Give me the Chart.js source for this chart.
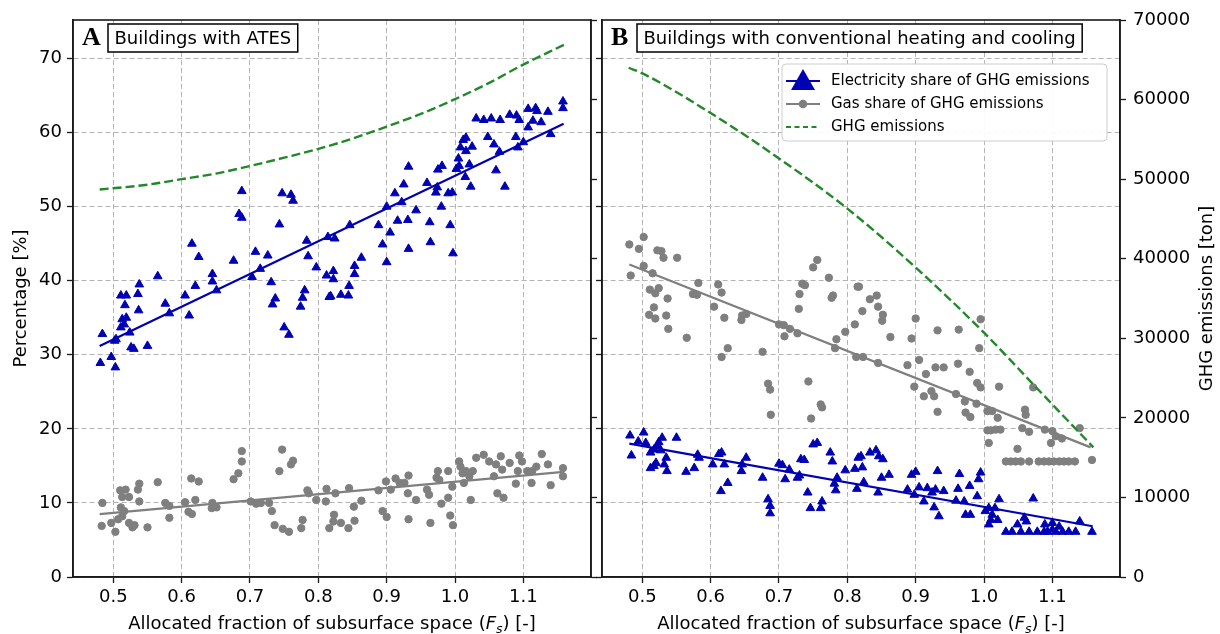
<!DOCTYPE html>
<html>
<head>
<meta charset="utf-8">
<script src="https://cdn.jsdelivr.net/npm/chart.js@4.4.1/dist/chart.umd.min.js"></script>
<style>
  html, body { margin: 0; padding: 0; background: #fff; }
  #wrap { position: relative; width: 1220px; height: 634px; overflow: hidden; background: #fff; }
  canvas { position: absolute; top: 0; }
  #panelA { left: 0; }
  #panelB { left: 594px; }
</style>
</head>
<body>
<div id="wrap">
  <canvas id="panelA" width="600" height="634"></canvas>
  <canvas id="panelB" width="626" height="634"></canvas>
</div>
<script>
// tick values
const fsTicks = [0.5, 0.6, 0.7, 0.8, 0.9, 1.0, 1.1];
const percentTicks = [0, 10, 20, 30, 40, 50, 60, 70];
const ghgTicks = [0, 10000, 20000, 30000, 40000, 50000, 60000, 70000];

// A: buildings with ATES  -- [Fs, %]
const atesElec = [
  [0.484, 32.8], [0.481, 28.9], [0.497, 29.7], [0.503, 28.3], [0.502, 31.9], [0.504, 32.1],
  [0.511, 38.0], [0.519, 38.0], [0.517, 36.7], [0.536, 38.2], [0.538, 39.5], [0.537, 36.0],
  [0.513, 34.8], [0.516, 34.1], [0.511, 33.7], [0.519, 35.0], [0.524, 33.0], [0.526, 31.0],
  [0.530, 30.8], [0.550, 31.2], [0.565, 40.6], [0.576, 36.9], [0.582, 35.6], [0.605, 38.0],
  [0.615, 45.0], [0.625, 43.2], [0.611, 35.3], [0.620, 39.3], [0.645, 40.9], [0.645, 39.9],
  [0.651, 38.7], [0.676, 42.7], [0.688, 52.1], [0.684, 49.0], [0.688, 48.5], [0.708, 43.9],
  [0.726, 43.4], [0.703, 40.5], [0.715, 41.6], [0.731, 39.8], [0.737, 37.6], [0.733, 36.8],
  [0.743, 47.6], [0.747, 51.8], [0.760, 51.6], [0.763, 50.8], [0.750, 33.7], [0.757, 32.7],
  [0.774, 36.5], [0.777, 37.7], [0.780, 38.7], [0.783, 45.4], [0.785, 43.3], [0.797, 41.8],
  [0.812, 40.7], [0.822, 41.3], [0.822, 40.2], [0.816, 37.8], [0.818, 37.9], [0.814, 45.9],
  [0.824, 45.7], [0.833, 38.1], [0.844, 38.0], [0.845, 39.3], [0.853, 40.9], [0.853, 42.0],
  [0.863, 43.1], [0.846, 47.5], [0.888, 47.5], [0.894, 44.9], [0.900, 42.5], [0.905, 46.5],
  [0.900, 50.0], [0.912, 51.8], [0.925, 53.0], [0.932, 55.4], [0.916, 48.1], [0.931, 48.2],
  [0.932, 44.3], [0.922, 50.6], [0.943, 49.5], [0.959, 53.2], [0.963, 47.9], [0.964, 45.2],
  [0.972, 51.9], [0.974, 52.6], [0.975, 55.0], [0.981, 55.5], [0.980, 50.0], [0.990, 51.8],
  [0.996, 51.9], [0.993, 47.5], [0.997, 43.7], [1.002, 55.1], [1.006, 55.5], [1.005, 56.5],
  [1.008, 58.0], [1.012, 59.0], [1.016, 59.3], [1.021, 55.7], [1.015, 54.0], [1.023, 52.7],
  [1.025, 58.1], [1.016, 57.5], [1.031, 61.9], [1.042, 61.7], [1.053, 61.9], [1.066, 61.7],
  [1.048, 59.4], [1.057, 58.4], [1.060, 54.9], [1.065, 57.4], [1.073, 52.7], [1.080, 62.4],
  [1.090, 62.3], [1.094, 61.7], [1.089, 59.4], [1.092, 58.0], [1.100, 58.7], [1.107, 63.2],
  [1.118, 63.3], [1.120, 62.9], [1.114, 61.6], [1.107, 60.7], [1.126, 61.4], [1.136, 62.8],
  [1.140, 59.8], [1.158, 64.2], [1.158, 63.3]
];
const atesGas = [
  [0.484, 10.0], [0.483, 6.9], [0.497, 7.3], [0.503, 6.1], [0.510, 11.7], [0.518, 11.8],
  [0.513, 10.8], [0.523, 10.8], [0.511, 9.4], [0.516, 8.9], [0.513, 8.2], [0.507, 7.8],
  [0.538, 12.6], [0.536, 11.8], [0.538, 10.2], [0.523, 7.3], [0.528, 6.7], [0.531, 7.0],
  [0.550, 6.7], [0.565, 12.8], [0.576, 10.0], [0.582, 9.6], [0.582, 8.0], [0.605, 10.1],
  [0.614, 13.3], [0.625, 12.9], [0.610, 8.8], [0.615, 8.5], [0.620, 10.4], [0.645, 10.0],
  [0.644, 9.3], [0.651, 9.4], [0.676, 13.2], [0.683, 14.0], [0.688, 15.6], [0.688, 17.0],
  [0.701, 10.2], [0.709, 9.9], [0.716, 10.0], [0.728, 10.0], [0.732, 8.9], [0.736, 7.0],
  [0.748, 6.5], [0.757, 6.1], [0.743, 14.3], [0.747, 17.2], [0.760, 15.2], [0.763, 15.7],
  [0.775, 6.6], [0.777, 7.7], [0.784, 11.7], [0.786, 11.3], [0.797, 10.4], [0.812, 11.9],
  [0.811, 10.2], [0.825, 11.3], [0.823, 8.4], [0.822, 7.5], [0.816, 6.6], [0.833, 7.3],
  [0.844, 6.6], [0.853, 7.6], [0.852, 9.5], [0.845, 12.0], [0.863, 10.3], [0.888, 11.7],
  [0.899, 12.9], [0.894, 8.9], [0.900, 8.1], [0.906, 11.8], [0.913, 13.3], [0.919, 12.7],
  [0.926, 12.7], [0.932, 13.7], [0.931, 11.3], [0.943, 10.4], [0.932, 7.8], [0.959, 11.8],
  [0.962, 11.1], [0.964, 7.3], [0.973, 13.4], [0.975, 14.3], [0.977, 13.1], [0.990, 14.3],
  [0.980, 9.9], [0.990, 10.7], [0.993, 8.3], [0.997, 7.0], [0.996, 12.2], [1.006, 15.6],
  [1.008, 14.9], [1.011, 14.0], [1.016, 14.3], [1.021, 13.6], [1.013, 12.7], [1.026, 14.3],
  [1.023, 10.4], [1.031, 16.1], [1.042, 16.5], [1.050, 15.6], [1.057, 13.6], [1.060, 15.2],
  [1.067, 16.3], [1.062, 11.3], [1.071, 10.7], [1.069, 14.5], [1.080, 15.4], [1.089, 12.6],
  [1.092, 14.3], [1.094, 16.4], [1.098, 15.6], [1.106, 14.3], [1.112, 12.7], [1.119, 14.9],
  [1.113, 14.3], [1.127, 16.6], [1.136, 15.2], [1.140, 12.4], [1.158, 14.7], [1.158, 13.6]
];
const atesElecFit = [[0.480, 31.2], [1.159, 61.2]];
const atesGasFit = [[0.480, 8.5], [1.159, 14.2]];
// GHG emissions [ton]
const atesGhg = [
  [0.480, 48700], [0.550, 49300], [0.600, 50000], [0.650, 50700], [0.700, 51650],
  [0.750, 52700], [0.800, 53800], [0.850, 55100], [0.900, 56600], [0.950, 58200],
  [1.000, 60050], [1.050, 62100], [1.100, 64400], [1.160, 66900]
];

// B: conventional heating and cooling
const convElec = [
  [0.482, 19.1], [0.484, 16.4], [0.494, 18.3], [0.502, 19.5], [0.505, 18.1], [0.512, 16.8],
  [0.517, 17.2], [0.522, 17.7], [0.524, 18.2], [0.529, 18.8], [0.527, 17.1], [0.512, 14.7],
  [0.517, 15.0], [0.520, 15.4], [0.535, 16.1], [0.536, 14.3], [0.550, 18.8], [0.532, 15.2],
  [0.564, 14.2], [0.576, 14.7], [0.581, 16.5], [0.583, 16.1], [0.603, 15.2], [0.612, 16.6],
  [0.616, 16.8], [0.620, 15.2], [0.615, 11.6], [0.625, 12.7], [0.645, 14.3], [0.646, 15.2],
  [0.652, 16.1], [0.676, 13.4], [0.684, 10.5], [0.687, 9.6], [0.687, 8.6], [0.700, 15.3],
  [0.705, 15.1], [0.709, 13.2], [0.715, 14.5], [0.727, 13.4], [0.730, 13.7], [0.732, 15.9],
  [0.737, 15.8], [0.742, 11.4], [0.746, 9.3], [0.750, 17.9], [0.756, 18.1], [0.761, 9.3],
  [0.763, 10.2], [0.775, 16.8], [0.778, 15.6], [0.781, 12.6], [0.783, 11.7], [0.785, 13.4],
  [0.797, 14.4], [0.811, 14.6], [0.816, 16.1], [0.820, 16.3], [0.822, 14.8], [0.824, 12.8],
  [0.814, 11.9], [0.833, 16.8], [0.842, 17.1], [0.846, 16.3], [0.852, 15.9], [0.845, 11.4],
  [0.850, 13.4], [0.861, 13.8], [0.888, 11.8], [0.894, 13.8], [0.900, 14.2], [0.898, 11.1],
  [0.905, 12.1], [0.912, 10.2], [0.917, 12.0], [0.924, 11.4], [0.927, 9.4], [0.932, 14.3],
  [0.929, 11.8], [0.934, 8.2], [0.941, 11.6], [0.959, 10.3], [0.962, 11.9], [0.964, 13.9],
  [0.971, 10.2], [0.973, 8.4], [0.979, 12.3], [0.980, 8.4], [0.992, 13.2], [0.995, 14.1],
  [0.990, 10.9], [1.002, 8.9], [1.007, 9.3], [1.007, 7.1], [1.012, 8.4], [1.020, 7.7],
  [1.022, 10.5], [1.016, 9.3], [1.010, 7.7], [1.032, 6.1], [1.041, 6.1], [1.049, 7.1],
  [1.054, 6.1], [1.059, 8.0], [1.062, 7.5], [1.066, 6.1], [1.072, 10.6], [1.078, 6.1],
  [1.088, 6.1], [1.089, 7.1], [1.093, 6.1], [1.100, 7.3], [1.100, 6.4], [1.105, 6.1],
  [1.110, 6.8], [1.115, 6.1], [1.124, 6.1], [1.134, 6.1], [1.140, 7.5], [1.158, 6.1]
];
const convGas = [
  [0.481, 44.9], [0.495, 44.3], [0.502, 45.9], [0.483, 40.7], [0.502, 42.0], [0.515, 41.0],
  [0.511, 38.8], [0.519, 38.3], [0.524, 39.0], [0.517, 36.4], [0.510, 35.4], [0.519, 34.9],
  [0.537, 37.6], [0.535, 35.3], [0.538, 33.5], [0.522, 44.1], [0.528, 44.0], [0.531, 43.1],
  [0.551, 43.1], [0.565, 32.3], [0.582, 39.7], [0.574, 38.2], [0.580, 38.1], [0.605, 36.5],
  [0.611, 39.5], [0.616, 38.4], [0.620, 35.0], [0.625, 30.9], [0.616, 29.7], [0.646, 35.3],
  [0.645, 34.7], [0.652, 35.5], [0.676, 30.4], [0.684, 26.1], [0.687, 25.3], [0.688, 21.9],
  [0.700, 34.1], [0.707, 34.0], [0.708, 32.5], [0.716, 33.5], [0.727, 32.9], [0.729, 36.2],
  [0.730, 38.2], [0.734, 39.6], [0.738, 39.4], [0.750, 41.8], [0.756, 42.8], [0.743, 26.4],
  [0.747, 21.4], [0.761, 23.3], [0.763, 22.9], [0.773, 40.4], [0.777, 37.7], [0.779, 38.0],
  [0.782, 30.9], [0.784, 32.1], [0.797, 33.1], [0.811, 34.1], [0.813, 29.7], [0.823, 29.7],
  [0.822, 35.9], [0.815, 39.2], [0.817, 39.2], [0.833, 37.5], [0.843, 38.0], [0.845, 36.5],
  [0.852, 35.4], [0.851, 34.6], [0.845, 28.9], [0.863, 32.4], [0.888, 28.6], [0.894, 32.2],
  [0.900, 34.9], [0.905, 29.3], [0.898, 25.7], [0.912, 24.4], [0.915, 27.4], [0.923, 25.1],
  [0.927, 24.4], [0.932, 33.3], [0.929, 28.3], [0.941, 28.3], [0.932, 22.3], [0.959, 24.7],
  [0.962, 28.8], [0.963, 33.4], [0.972, 23.7], [0.973, 22.2], [0.980, 21.6], [0.979, 27.7],
  [0.990, 26.2], [0.995, 25.6], [0.993, 30.9], [0.995, 34.8], [0.989, 23.4], [1.005, 22.4],
  [1.012, 22.4], [1.020, 21.5], [1.022, 25.7], [1.007, 18.1], [1.005, 19.8], [1.010, 19.8],
  [1.017, 19.9], [1.024, 19.9], [1.032, 15.6], [1.039, 15.6], [1.046, 15.6], [1.054, 15.6],
  [1.066, 15.6], [1.080, 15.6], [1.088, 15.6], [1.095, 15.6], [1.102, 15.6], [1.110, 15.6],
  [1.117, 15.6], [1.124, 15.6], [1.133, 15.6], [1.158, 15.8], [1.049, 17.3], [1.056, 20.1],
  [1.066, 19.6], [1.060, 22.6], [1.061, 21.9], [1.072, 25.6], [1.089, 19.9], [1.100, 19.7],
  [1.098, 18.1], [1.105, 19.0], [1.114, 18.7], [1.140, 20.1]
];
const convElecFit = [[0.481, 18.0], [1.159, 6.85]];
const convGasFit = [[0.481, 42.2], [1.156, 17.5]];
const convGhg = [
  [0.480, 64000], [0.500, 63300], [0.600, 58300], [0.700, 52600], [0.800, 46300],
  [0.900, 38900], [1.000, 30700], [1.076, 23850], [1.160, 16300]
];

const BLUE = '#0000b4';
const GRAY = '#7f7f7f';
const GREEN = '#22882a';
const GRID = '#b4b4b4';
const SPINE = '#1a1a1a';
const FONT = 'DejaVu Sans';
const tickFont = { family: FONT, size: 18 };

Chart.defaults.color = '#000';
Chart.defaults.font.family = FONT;

const toXY = pts => pts.map(([x, y]) => ({ x, y }));

function buildDatasets(elec, gas, elecFit, gasFit, ghg) {
    return [
        {
            type: 'line', label: 'GHG emissions', data: toXY(ghg), yAxisID: 'y2',
            borderColor: GREEN, borderWidth: 2.4, borderDash: [9, 4],
            pointRadius: 0, cubicInterpolationMode: 'monotone', fill: false
        },
        { type: 'line', data: toXY(elecFit), borderColor: BLUE, borderWidth: 2.2, pointRadius: 0, fill: false },
        { type: 'line', data: toXY(gasFit), borderColor: GRAY, borderWidth: 2.2, pointRadius: 0, fill: false },
        {
            type: 'scatter', label: 'Electricity share of GHG emissions', data: toXY(elec),
            pointStyle: 'triangle', pointRadius: 5, backgroundColor: BLUE, borderColor: BLUE, borderWidth: 1
        },
        {
            type: 'scatter', label: 'Gas share of GHG emissions', data: toXY(gas),
            pointStyle: 'circle', pointRadius: 3.7, backgroundColor: GRAY, borderColor: GRAY, borderWidth: 1
        }
    ];
}

function xScale() {
    return {
        type: 'linear', position: 'bottom', min: 0.441, max: 1.199,
        afterBuildTicks: s => { s.ticks = fsTicks.map(v => ({ value: v })); },
        afterFit: s => { s.height = 57; },
        ticks: { callback: v => v.toFixed(1), font: tickFont, padding: 4, maxRotation: 0, autoSkip: false },
        grid: { color: GRID, lineWidth: 1, tickLength: 6, tickColor: SPINE, tickWidth: 1.3 },
        border: { display: true, color: SPINE, width: 1.6, dash: [5, 3] }
    };
}

function percentScale(showLabels, width) {
    return {
        type: 'linear', position: 'left', min: 0, max: 75.2,
        afterBuildTicks: s => { s.ticks = percentTicks.map(v => ({ value: v })); },
        afterFit: s => { s.width = width; },
        ticks: { display: showLabels, callback: v => String(v), font: tickFont, padding: 5 },
        grid: { color: GRID, lineWidth: 1, tickLength: 6, tickColor: SPINE, tickWidth: 1.3 },
        border: { display: true, color: SPINE, width: 1.6, dash: [5, 3] },
        title: {
            display: showLabels, text: 'Percentage [%]',
            font: { family: FONT, size: 18 }, padding: { top: 11, bottom: 0 }
        }
    };
}

function ghgScale(showLabels, width) {
    return {
        type: 'linear', position: 'right', min: 0, max: 70000,
        afterBuildTicks: s => { s.ticks = ghgTicks.map(v => ({ value: v })); },
        afterFit: s => { s.width = width; },
        ticks: { display: showLabels, callback: v => String(v), font: tickFont, padding: 7 },
        grid: { drawOnChartArea: false, tickLength: 6, tickColor: SPINE, tickWidth: 1.3 },
        border: { display: true, color: SPINE, width: 1.6 }
    };
}

// frame on all four sides, drawn over the markers like matplotlib spines
const frame = {
    id: 'frame',
    afterDatasetsDraw(chart) {
        const { ctx, chartArea: a } = chart;
        ctx.save();
        ctx.strokeStyle = SPINE;
        ctx.lineWidth = 1.6;
        ctx.strokeRect(a.left, a.top, a.right - a.left, a.bottom - a.top);
        ctx.restore();
    }
};

// x label with italic F and subscript s
const fsTitle = {
    id: 'fsTitle',
    afterDraw(chart) {
        const { ctx, chartArea: a } = chart;
        const parts = [
            { t: 'Allocated fraction of subsurface space (', f: `18px "${FONT}"`, dy: 0 },
            { t: 'F', f: `italic 18px "${FONT}"`, dy: 0 },
            { t: 's', f: `italic 12.5px "${FONT}"`, dy: 4 },
            { t: ') [-]', f: `18px "${FONT}"`, dy: 0 }
        ];
        ctx.save();
        let total = 0;
        parts.forEach(p => { ctx.font = p.f; p.w = ctx.measureText(p.t).width; total += p.w; });
        let x = (a.left + a.right) / 2 - total / 2;
        const base = 629;
        ctx.fillStyle = '#000';
        ctx.textBaseline = 'alphabetic';
        parts.forEach(p => { ctx.font = p.f; ctx.fillText(p.t, x, base + p.dy); x += p.w; });
        ctx.restore();
    }
};

function panelTag(letter, text) {
    return {
        id: 'tag' + letter,
        afterDraw(chart) {
            const { ctx, chartArea: a } = chart;
            ctx.save();
            ctx.fillStyle = '#000';
            ctx.textBaseline = 'alphabetic';
            ctx.font = 'bold 26px "Liberation Serif"';
            ctx.fillText(letter, a.left + 9, a.top + 25);
            ctx.font = `18px "${FONT}"`;
            const w = ctx.measureText(text).width;
            const bx = a.left + 35, by = a.top + 4;
            ctx.fillStyle = '#fff';
            ctx.fillRect(bx, by, w + 13, 28);
            ctx.lineWidth = 1.5;
            ctx.strokeStyle = '#000';
            ctx.strokeRect(bx, by, w + 13, 28);
            ctx.fillStyle = '#000';
            ctx.fillText(text, bx + 6.5, a.top + 24);
            ctx.restore();
        }
    };
}

// right axis title reads bottom-to-top like the left one
const ghgTitle = {
    id: 'ghgTitle',
    afterDraw(chart) {
        const { ctx, chartArea: a } = chart;
        ctx.save();
        ctx.translate(a.right + 87, (a.top + a.bottom) / 2);
        ctx.rotate(-Math.PI / 2);
        ctx.font = `18px "${FONT}"`;
        ctx.fillStyle = '#000';
        ctx.textAlign = 'center';
        ctx.textBaseline = 'middle';
        ctx.fillText('GHG emissions [ton]', 0, 0);
        ctx.restore();
    }
};

const legendBox = {
    id: 'legendBox',
    afterDraw(chart) {
        const { ctx, chartArea: a } = chart;
        const x0 = a.left + 180, y0 = a.top + 44, w = a.right - 13 - x0, h = 77;
        const hx = a.left + 184, hx2 = a.left + 218, cx = (hx + hx2) / 2, tx = a.left + 229;
        const rows = [a.top + 61, a.top + 84, a.top + 107];
        ctx.save();
        ctx.beginPath();
        ctx.roundRect(x0, y0, w, h, 4);
        ctx.fillStyle = 'rgba(255,255,255,0.9)';
        ctx.fill();
        ctx.strokeStyle = '#cccccc';
        ctx.lineWidth = 1;
        ctx.stroke();

        // electricity handle: line + big triangle
        ctx.strokeStyle = BLUE; ctx.lineWidth = 2.2;
        ctx.beginPath(); ctx.moveTo(hx, rows[0]); ctx.lineTo(hx2, rows[0]); ctx.stroke();
        ctx.fillStyle = BLUE;
        ctx.beginPath();
        ctx.moveTo(cx, rows[0] - 12); ctx.lineTo(cx - 12, rows[0] + 9); ctx.lineTo(cx + 12, rows[0] + 9);
        ctx.closePath(); ctx.fill();

        // gas handle
        ctx.strokeStyle = GRAY;
        ctx.beginPath(); ctx.moveTo(hx, rows[1]); ctx.lineTo(hx2, rows[1]); ctx.stroke();
        ctx.fillStyle = GRAY;
        ctx.beginPath(); ctx.arc(cx, rows[1], 4.3, 0, Math.PI * 2); ctx.fill();

        // ghg handle
        ctx.strokeStyle = GREEN; ctx.lineWidth = 2;
        ctx.setLineDash([5, 3.5]);
        ctx.beginPath(); ctx.moveTo(hx, rows[2]); ctx.lineTo(hx2, rows[2]); ctx.stroke();
        ctx.setLineDash([]);

        ctx.fillStyle = '#000';
        ctx.font = `15px "${FONT}"`;
        ctx.textBaseline = 'middle';
        ctx.fillText('Electricity share of GHG emissions', tx, rows[0]);
        ctx.fillText('Gas share of GHG emissions', tx, rows[1]);
        ctx.fillText('GHG emissions', tx, rows[2]);
        ctx.restore();
    }
};

const common = {
    responsive: false,
    animation: false,
    devicePixelRatio: 1,
    events: [],
    layout: { padding: { top: 20, left: 0, right: 0, bottom: 0 } },
    plugins: { legend: { display: false }, tooltip: { enabled: false } }
};

new Chart(document.getElementById('panelA'), {
    type: 'scatter',
    data: { datasets: buildDatasets(atesElec, atesGas, atesElecFit, atesGasFit, atesGhg) },
    options: {
        ...common,
        scales: { x: xScale(), y: percentScale(true, 73), y2: ghgScale(false, 9) }
    },
    plugins: [frame, fsTitle, panelTag('A', 'Buildings with ATES')]
});

new Chart(document.getElementById('panelB'), {
    type: 'scatter',
    data: { datasets: buildDatasets(convElec, convGas, convElecFit, convGasFit, convGhg) },
    options: {
        ...common,
        scales: { x: xScale(), y: percentScale(false, 8), y2: ghgScale(true, 100) }
    },
    plugins: [frame, fsTitle, panelTag('B', 'Buildings with conventional heating and cooling'), ghgTitle, legendBox]
});
</script>
</body>
</html>
